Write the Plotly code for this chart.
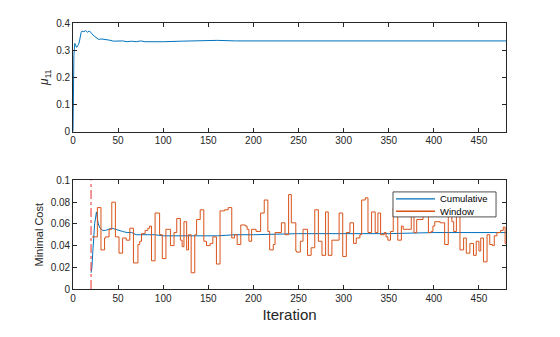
import plotly.graph_objects as go
from plotly.subplots import make_subplots

# ---- data ----
mu_x = [0, 1, 2, 3, 4, 5, 6, 7, 8, 9, 10, 12, 14, 16, 18, 20, 22, 25, 28, 32, 36, 40, 45,
        50, 55, 60, 65, 70, 75, 80, 90, 100, 120, 140, 160, 180, 200, 220, 250, 300, 350,
        400, 450, 480]
mu_y = [0.0, 0.28, 0.325, 0.315, 0.31, 0.315, 0.32, 0.33, 0.35, 0.365, 0.37, 0.368, 0.372,
        0.366, 0.37, 0.365, 0.356, 0.348, 0.34, 0.341, 0.34, 0.337, 0.333, 0.333, 0.334,
        0.331, 0.333, 0.331, 0.334, 0.331, 0.330, 0.331, 0.333, 0.335, 0.336, 0.334, 0.334,
        0.333, 0.333, 0.334, 0.335, 0.334, 0.334, 0.334]

cum_x = [20, 21, 22, 24, 26, 27, 28, 30, 33, 36, 40, 43, 47, 50, 55, 60, 65, 70, 80, 90,
         100, 120, 140, 160, 180, 200, 250, 300, 350, 400, 440, 480]
cum_y = [0.015, 0.020, 0.035, 0.060, 0.071, 0.066, 0.060, 0.056, 0.054, 0.054, 0.055,
         0.056, 0.055, 0.054, 0.053, 0.052, 0.052, 0.050, 0.050, 0.050, 0.049, 0.049,
         0.049, 0.049, 0.050, 0.050, 0.051, 0.051, 0.051, 0.052, 0.052, 0.052]

# window cost: iteration at which each level starts, and its value (step series)
win_x = [21, 27, 31, 35, 36, 40, 43, 47, 51, 55, 59, 63, 67, 72, 74, 76, 80, 83, 85, 87,
         91, 96, 99, 103, 108, 112, 115, 119, 121, 123, 126, 128, 131, 135, 137, 141, 145,
         148, 152, 155, 159, 163, 168, 172, 176, 179, 182, 186, 191, 193, 195, 198, 203,
         208, 212, 216, 218, 222, 224, 231, 235, 239, 242, 247, 248, 252, 255, 260, 264,
         268, 272, 276, 280, 283, 287, 295, 299, 303, 307, 311, 314, 318, 320, 324, 327,
         331, 335, 338, 341, 345, 347, 349, 352, 355, 360, 364, 366, 375, 378, 381, 388,
         394, 397, 399, 401, 407, 412, 416, 420, 422, 425, 429, 433, 436, 440, 444, 447,
         450, 452, 455, 459, 462, 465, 467, 470, 474, 477, 479, 480]
win_y = [0.048, 0.075, 0.036, 0.047, 0.048, 0.055, 0.080, 0.048, 0.033, 0.047, 0.045,
         0.056, 0.024, 0.041, 0.044, 0.051, 0.054, 0.056, 0.058, 0.026, 0.070, 0.050,
         0.028, 0.055, 0.040, 0.052, 0.065, 0.045, 0.039, 0.062, 0.036, 0.050, 0.015,
         0.050, 0.064, 0.073, 0.044, 0.040, 0.042, 0.048, 0.023, 0.072, 0.073, 0.075,
         0.047, 0.050, 0.041, 0.059, 0.058, 0.055, 0.044, 0.055, 0.053, 0.070, 0.082,
         0.053, 0.036, 0.041, 0.052, 0.061, 0.050, 0.087, 0.061, 0.035, 0.034, 0.044,
         0.055, 0.031, 0.038, 0.073, 0.044, 0.031, 0.071, 0.031, 0.045, 0.070, 0.030,
         0.052, 0.061, 0.042, 0.047, 0.050, 0.082, 0.084, 0.052, 0.071, 0.052, 0.070,
         0.050, 0.052, 0.048, 0.045, 0.053, 0.075, 0.045, 0.058, 0.055, 0.075, 0.052,
         0.064, 0.075, 0.052, 0.053, 0.058, 0.062, 0.061, 0.041, 0.075, 0.062, 0.053,
         0.075, 0.036, 0.047, 0.033, 0.042, 0.031, 0.044, 0.035, 0.047, 0.025, 0.050,
         0.041, 0.040, 0.049, 0.052, 0.054, 0.057, 0.042, 0.042]

series_names = ["Cumulative", "Window"]
vline_x = 20
x_ticks = [0, 50, 100, 150, 200, 250, 300, 350, 400, 450]

BLUE = "#0072BD"
ORANGE = "#D95319"
AX = "#262626"
FONT = "Liberation Sans, Arial, sans-serif"

fig = make_subplots(rows=2, cols=1, vertical_spacing=0.184)
fig.add_trace(go.Scatter(x=mu_x, y=mu_y, mode="lines", line=dict(color=BLUE, width=1),
                         showlegend=False), row=1, col=1)
fig.add_trace(go.Scatter(x=cum_x, y=cum_y, mode="lines", line=dict(color=BLUE, width=1),
                         name=series_names[0], showlegend=False), row=2, col=1)
fig.add_trace(go.Scatter(x=win_x, y=win_y, mode="lines", line=dict(color=ORANGE, width=1, shape="hv"),
                         name=series_names[1], showlegend=False), row=2, col=1)

leg_rows = [(series_names[0], BLUE, 0.835), (series_names[1], ORANGE, 0.72)]

shapes = [
    dict(type="line", xref="x2", yref="y2 domain", x0=vline_x, x1=vline_x, y0=0, y1=1,
         line=dict(color="rgb(235,45,45)", width=1, dash="dashdot"), layer="above"),
    dict(type="rect", xref="paper", yref="paper", x0=0.739, x1=0.977,
         y0=0.271, y1=0.365, fillcolor="white", line=dict(color=AX, width=0.8), layer="above"),
]
annotations = []
for name, col, yy in leg_rows:
    ypap = yy * 0.406
    shapes.append(dict(type="line", xref="paper", yref="paper", x0=0.746, x1=0.836,
                       y0=ypap, y1=ypap, line=dict(color=col, width=1.3), layer="above"))
    annotations.append(dict(xref="paper", yref="paper", x=0.842, y=ypap, text=name,
                            showarrow=False, xanchor="left", yanchor="middle",
                            font=dict(family=FONT, size=9.5, color="black")))

axcommon = dict(showline=True, linecolor=AX, linewidth=0.8, mirror="ticks", ticks="inside",
                ticklen=4, tickcolor=AX, tickwidth=0.8, showgrid=False, zeroline=False,
                tickfont=dict(family=FONT, size=10, color=AX))
fig.update_xaxes(range=[0, 480], tickvals=x_ticks, **axcommon)
fig.update_yaxes(**axcommon)
fig.update_yaxes(range=[0, 0.4], tickvals=[0, 0.1, 0.2, 0.3, 0.4],
                 ticktext=["0", "0.1", "0.2", "0.3", "0.4"], row=1, col=1,
                 title=dict(text="<i>μ</i><sub>11</sub>", font=dict(family=FONT, size=12, color=AX),
                            standoff=4))
fig.update_yaxes(range=[0, 0.1], tickvals=[0, 0.02, 0.04, 0.06, 0.08, 0.1],
                 ticktext=["0", "0.02", "0.04", "0.06", "0.08", "0.1"], row=2, col=1,
                 title=dict(text="Minimal Cost", font=dict(family=FONT, size=11, color=AX),
                            standoff=4))
fig.update_xaxes(row=2, col=1, title=dict(text="Iteration", font=dict(family=FONT, size=15, color=AX),
                                          standoff=6))

fig.update_layout(
    width=560, height=337,
    margin=dict(l=73, r=54, t=23, b=48),
    paper_bgcolor="white", plot_bgcolor="white",
    font=dict(family=FONT, color=AX),
    showlegend=False,
    shapes=shapes,
    annotations=annotations,
)
fig.write_html("out.html")
